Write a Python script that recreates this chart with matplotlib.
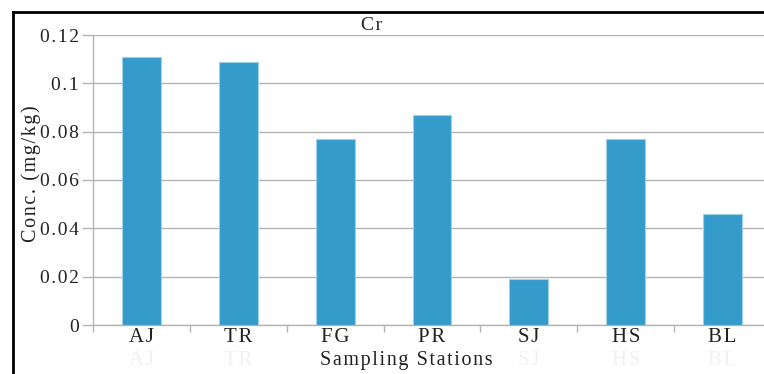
import matplotlib
matplotlib.use("Agg")
import matplotlib.pyplot as plt
from matplotlib.lines import Line2D
import numpy as np

stations = ["AJ", "TR", "FG", "PR", "SJ", "HS", "BL"]
cr_conc = [0.111, 0.109, 0.077, 0.087, 0.019, 0.077, 0.046]
y_ticks = [0, 0.02, 0.04, 0.06, 0.08, 0.1, 0.12]
y_tick_labels = ["0", "0.02", "0.04", "0.06", "0.08", "0.1", "0.12"]

plt.rcParams["font.family"] = ["Liberation Serif", "DejaVu Serif"]

HAIR = "\u200a"


def spaced(s):
    return HAIR.join(s)


W, H = 764, 374
fig = plt.figure(figsize=(W / 100, H / 100), dpi=100)
ax = fig.add_axes([93 / W, 49 / H, 678 / W, 290 / H])

x = np.arange(len(stations))
ax.bar(x, cr_conc, width=0.4, color="#359bcb", edgecolor="#9fd0ea",
       linewidth=0.8, zorder=3)

ax.set_xlim(-0.5, len(stations) - 0.5)
ax.set_ylim(0, 0.12)
ax.set_yticks(y_ticks)
ax.set_yticklabels([spaced(t) for t in y_tick_labels], fontsize=14)
ax.yaxis.grid(True, color="#b4b4b4", linewidth=1.0, zorder=0)
ax.tick_params(axis="y", length=8, width=1.0, color="#b4b4b4", pad=2,
               labelcolor="#222222")

# Category ticks on boundaries, labels centred under bars
ax.set_xticks(np.arange(len(stations) + 1) - 0.5)
ax.set_xticklabels([])
ax.set_xticks(x, minor=True)
ax.set_xticklabels([spaced(s) for s in stations], minor=True, fontsize=15,
                   color="#222222")
ax.tick_params(axis="x", which="major", length=5, width=1.0, color="#b4b4b4")
ax.tick_params(axis="x", which="minor", length=0, pad=2)

for side in ("top", "right"):
    ax.spines[side].set_visible(False)
for side in ("left", "bottom"):
    ax.spines[side].set_color("#b4b4b4")
    ax.spines[side].set_linewidth(1.0)

# faint repeated labels beneath the axis (those behind the axis title are hidden)
for xi, s in zip(x, stations):
    if s in ("FG", "PR"):
        continue
    ax.text(xi, -0.0145, spaced(s), ha="center", va="center", fontsize=15,
            color="#f1f1f1", transform=ax.transData, clip_on=False)

fig.text(406 / W, 1 - 361 / H, spaced("Sampling Stations"), ha="center",
         va="center", fontsize=14.5, color="#222222")
fig.text(372 / W, 1 - 25 / H, spaced("Cr"), ha="center", va="center",
         fontsize=14, color="#222222")
fig.text(31 / W, 1 - 174 / H, spaced("Conc. (mg/kg)"), rotation=90,
         ha="center", va="center", fontsize=14.5, color="#222222")

# outer frame on left and top
fig.add_artist(Line2D([13 / W, 13 / W], [0, 1 - 12 / H], color="black",
                      linewidth=2.0, transform=fig.transFigure))
fig.add_artist(Line2D([13 / W, 1], [1 - 12 / H, 1 - 12 / H], color="black",
                      linewidth=2.0, transform=fig.transFigure))

fig.savefig("out.png", dpi=100)
